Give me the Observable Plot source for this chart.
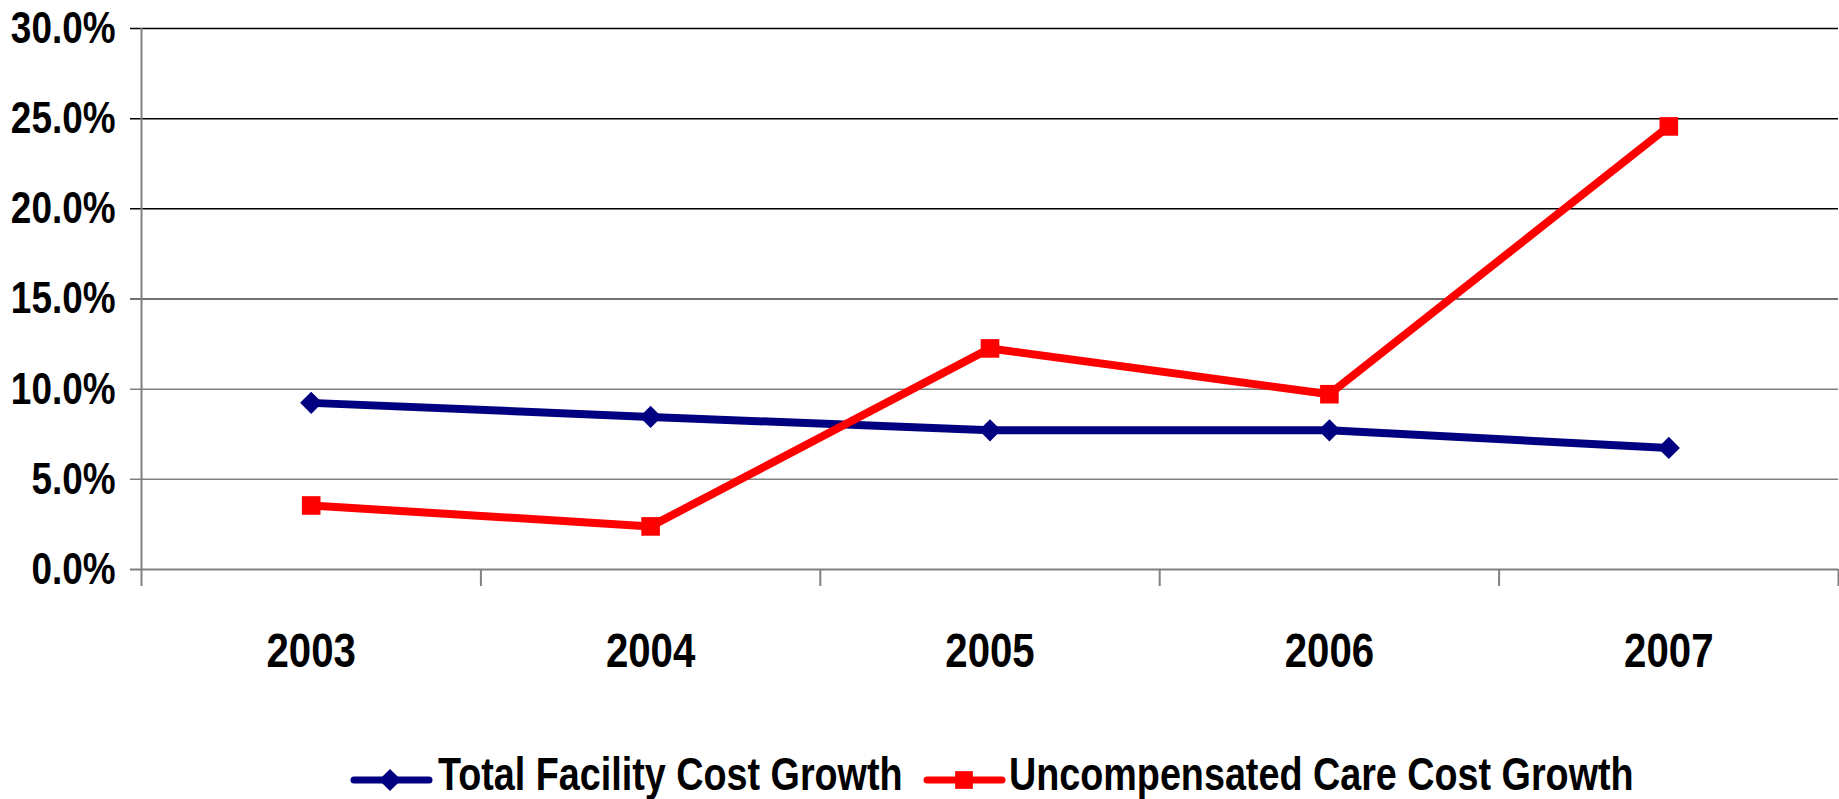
<!DOCTYPE html>
<html>
<head>
<meta charset="utf-8">
<script src="https://cdn.jsdelivr.net/npm/d3@7"></script>
<script src="https://cdn.jsdelivr.net/npm/@observablehq/plot@0.6"></script>
<style>
  html, body { margin: 0; padding: 0; background: #fff; }
  body { width: 1839px; height: 799px; overflow: hidden; font-family: "Liberation Sans", Arial, sans-serif; font-weight: bold; }
  #legend { position: relative; height: 54px; width: 1839px; }
  #legend svg { position: absolute; top: 0; display: block; }
  #legend span { position: absolute; top: 2px; font-size: 46px; line-height: 54px; color: #000; white-space: nowrap; transform: scaleX(0.82); transform-origin: 0 50%; }
</style>
</head>
<body>
<div id="chart"></div>
<div id="legend"></div>
<script>
const years = ["2003", "2004", "2005", "2006", "2007"];
const seriesNames = ["Total Facility Cost Growth", "Uncompensated Care Cost Growth"];
const totalFacility = [0.0924, 0.0846, 0.0772, 0.0772, 0.0674];
const uncompensated = [0.0355, 0.0239, 0.1226, 0.0972, 0.2457];
const yTicks = [0, 0.05, 0.10, 0.15, 0.20, 0.25, 0.30];
const colors = ["#000080", "#FF0000"];
const symbols = ["diamond2", "square"];

const rows = [];
years.forEach((yr, i) => {
  rows.push({series: seriesNames[0], idx: i + 0.5, value: totalFacility[i]});
  rows.push({series: seriesNames[1], idx: i + 0.5, value: uncompensated[i]});
});
const boundaries = d3.range(years.length + 1);
const yearPos = years.map((y, i) => ({label: y, idx: i + 0.5}));

const gridColor = d => d === 0 ? "#808080" : d >= 0.2 ? "#000000" : d >= 0.15 ? "#404040" : "#808080";

const plot = Plot.plot({
  width: 1839,
  height: 745,
  marginLeft: 141,
  marginRight: 1,
  marginTop: 28,
  marginBottom: 176,
  style: {fontFamily: '"Liberation Sans", Arial, sans-serif', fontWeight: "bold", color: "#000", background: "#fff"},
  x: {type: "linear", domain: [0, years.length], label: null},
  y: {type: "linear", domain: [0, 0.30], label: null},
  marks: [
    Plot.ruleY(yTicks, {y: d => d, stroke: gridColor, strokeWidth: d => d === 0 ? 2 : 1.5, insetLeft: -11}),
    Plot.ruleX([0], {stroke: "#808080", strokeWidth: 2}),
    Plot.axisX({ticks: boundaries, tickSize: 17, tickFormat: () => "", stroke: "#808080", strokeWidth: 2, label: null}),
    Plot.axisY({ticks: yTicks, tickSize: 0, tickPadding: 26, tickFormat: d3.format(".1%"), fontSize: 45, fontWeight: "bold", fill: "#000", label: null}),
    Plot.text(yearPos, {x: "idx", y: () => 0, text: "label", dy: 82, lineAnchor: "middle", fontSize: 49, fontWeight: "bold", fill: "#000"}),
    Plot.line(rows, {x: "idx", y: "value", z: "series", stroke: d => colors[seriesNames.indexOf(d.series)], strokeWidth: 8, strokeLinejoin: "round"}),
    Plot.dot(rows.filter(d => d.series === seriesNames[0]), {x: "idx", y: "value", symbol: symbols[0], r: 10, fill: colors[0], stroke: "none"}),
    Plot.dot(rows.filter(d => d.series === seriesNames[1]), {x: "idx", y: "value", symbol: symbols[1], r: 10.5, fill: colors[1], stroke: "none"})
  ]
});
document.getElementById("chart").appendChild(plot);

// Condense all SVG text horizontally (narrow bold face look) via textLength
plot.querySelectorAll("text").forEach(t => {
  const w = t.getComputedTextLength();
  if (w > 0) {
    t.setAttribute("textLength", (w * 0.82).toFixed(2));
    t.setAttribute("lengthAdjust", "spacingAndGlyphs");
  }
});

// Legend
const legend = d3.select("#legend");
const swatchLeft = [350, 923];
const textLeft = [438, 1009];
seriesNames.forEach((name, i) => {
  const svg = legend.append("svg").attr("width", 84).attr("height", 54).style("left", swatchLeft[i] + "px");
  svg.append("line").attr("x1", 4).attr("x2", 79).attr("y1", 35).attr("y2", 35)
    .attr("stroke", colors[i]).attr("stroke-width", 7).attr("stroke-linecap", "round");
  const sym = d3.symbol().type(i === 0 ? d3.symbolDiamond2 : d3.symbolSquare).size(i === 0 ? Math.PI * 100 : Math.PI * 100);
  svg.append("path").attr("d", sym()).attr("transform", `translate(${i === 0 ? 40 : 41},35)`).attr("fill", colors[i]);
  legend.append("span").style("left", textLeft[i] + "px").text(name);
});
</script>
</body>
</html>
